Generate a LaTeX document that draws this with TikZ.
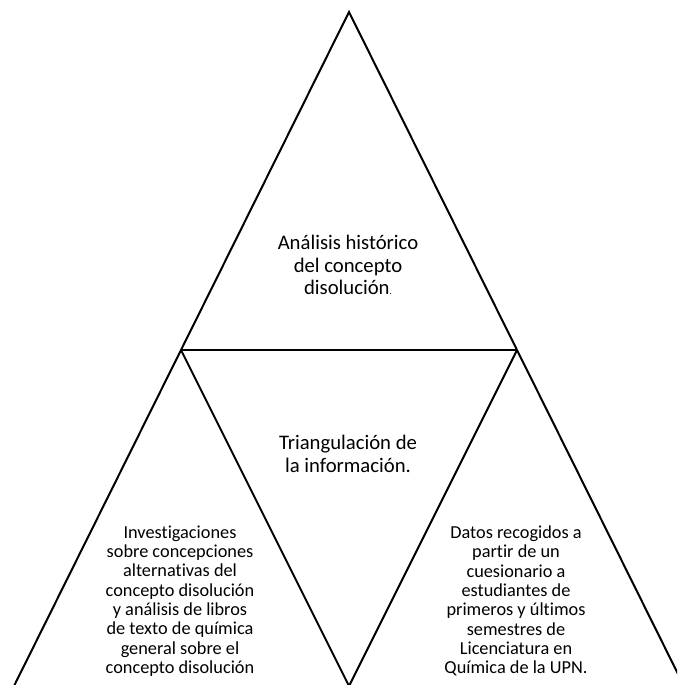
\documentclass[tikz,border=0pt]{standalone}
\usepackage{fontspec}
\setmainfont{Carlito}[Ligatures=NoCommon]
\begin{document}
\begin{tikzpicture}[x=1pt,y=-1pt,
  edge/.style={line width=2pt,line join=miter},
  bigtxt/.style={align=center,font=\fontsize{20.7}{22.5}\selectfont,inner sep=0pt},
  smalltxt/.style={align=center,font=\fontsize{18.3}{19.3}\selectfont,inner sep=0pt}]
\useasboundingbox (0,0) rectangle (677,685);
\begin{scope}
\clip (0,0) rectangle (677,685);
% vertices of the large triangle and its inner subdivision
\coordinate (apex) at (349,12);
\coordinate (ml) at (181,350);
\coordinate (mr) at (517,350);
\coordinate (bl) at (14,686);
\coordinate (bm) at (349,686);
\coordinate (br) at (684,686);
\draw[edge] (bl) -- (apex) -- (br);
\draw[edge] (ml) -- (mr);
\draw[edge] (ml) -- (bm) -- (mr);
\end{scope}
\node[bigtxt] (top) at (348,265) {Análisis histórico\\del concepto\\disolución{\small .}};
\node[bigtxt] (mid) at (348,454) {Triangulación de\\la información.};
\node[smalltxt] (left) at (180,601) {Investigaciones\\sobre concepciones\\alternativas del\\concepto disolución\\y análisis de libros\\de texto de química\\general sobre el\\concepto disolución};
\node[smalltxt] (right) at (516,601) {Datos recogidos a\\partir de un\\cuesionario a\\estudiantes de\\primeros y últimos\\semestres de\\Licenciatura en\\Química de la UPN.};
\end{tikzpicture}
\end{document}
